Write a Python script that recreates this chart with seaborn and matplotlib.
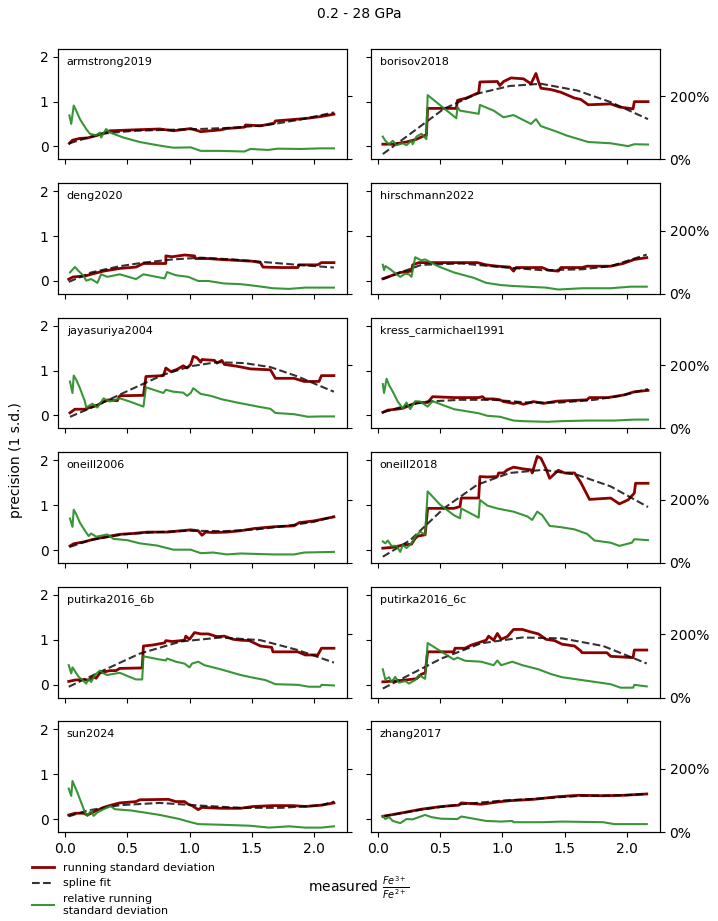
import matplotlib
matplotlib.use("Agg")
import matplotlib.pyplot as plt
from matplotlib.lines import Line2D
from matplotlib.ticker import PercentFormatter
import seaborn as sns

# === Data ===
STUDIES = ["armstrong2019", "borisov2018", "deng2020", "hirschmann2022",
           "jayasuriya2004", "kress_carmichael1991", "oneill2006", "oneill2018",
           "putirka2016_6b", "putirka2016_6c", "sun2024", "zhang2017"]

# running standard deviation (step-like)
SD_X = {
    "armstrong2019": [0.035, 0.06, 0.12, 0.18, 0.25, 0.33, 0.36, 0.55, 0.76, 0.87, 1.01, 1.09, 1.25, 1.30, 1.44, 1.45, 1.57, 1.68, 1.69, 1.87, 1.95, 2.06, 2.16],
    "borisov2018": [0.04, 0.12, 0.23, 0.31, 0.38, 0.39, 0.40, 0.63, 0.64, 0.71, 0.81, 0.82, 0.96, 0.98, 1.01, 1.07, 1.17, 1.23, 1.27, 1.29, 1.31, 1.39, 1.47, 1.58, 1.63, 1.69, 1.87, 1.94, 2.05, 2.06, 2.17],
    "deng2020": [0.03, 0.065, 0.16, 0.21, 0.31, 0.44, 0.57, 0.63, 0.81, 0.81, 0.86, 0.96, 1.04, 1.05, 1.15, 1.25, 1.38, 1.51, 1.57, 1.59, 1.74, 1.87, 1.88, 2.03, 2.06, 2.16],
    "hirschmann2022": [0.04, 0.12, 0.18, 0.27, 0.28, 0.33, 0.51, 0.80, 0.87, 0.96, 1.06, 1.09, 1.11, 1.32, 1.37, 1.45, 1.47, 1.64, 1.68, 1.87, 1.97, 2.06, 2.16],
    "jayasuriya2004": [0.04, 0.08, 0.16, 0.20, 0.26, 0.31, 0.35, 0.42, 0.44, 0.63, 0.65, 0.79, 0.81, 0.85, 0.90, 0.95, 0.98, 1.01, 1.03, 1.06, 1.09, 1.10, 1.20, 1.22, 1.26, 1.28, 1.38, 1.49, 1.65, 1.69, 1.84, 1.92, 2.04, 2.06, 2.16],
    "kress_carmichael1991": [0.04, 0.08, 0.15, 0.20, 0.26, 0.31, 0.40, 0.44, 0.61, 0.81, 0.84, 0.86, 0.93, 0.98, 1.01, 1.09, 1.12, 1.17, 1.25, 1.33, 1.44, 1.68, 1.70, 1.85, 1.98, 2.06, 2.17],
    "oneill2006": [0.04, 0.07, 0.15, 0.23, 0.34, 0.44, 0.55, 0.66, 0.82, 0.93, 1.01, 1.07, 1.10, 1.13, 1.19, 1.30, 1.41, 1.52, 1.68, 1.84, 1.88, 2.00, 2.16],
    "oneill2018": [0.04, 0.12, 0.20, 0.27, 0.30, 0.32, 0.38, 0.40, 0.61, 0.66, 0.67, 0.81, 0.82, 0.88, 0.96, 0.97, 1.01, 1.04, 1.09, 1.17, 1.23, 1.24, 1.28, 1.31, 1.35, 1.38, 1.45, 1.50, 1.58, 1.63, 1.70, 1.87, 1.94, 2.01, 2.06, 2.07, 2.17],
    "putirka2016_6b": [0.03, 0.08, 0.15, 0.19, 0.23, 0.25, 0.28, 0.36, 0.41, 0.44, 0.62, 0.63, 0.70, 0.80, 0.81, 0.86, 0.93, 0.96, 0.97, 1.00, 1.04, 1.09, 1.15, 1.22, 1.28, 1.35, 1.41, 1.48, 1.57, 1.66, 1.67, 1.87, 1.93, 2.03, 2.06, 2.16],
    "putirka2016_6c": [0.04, 0.15, 0.25, 0.31, 0.35, 0.38, 0.40, 0.61, 0.62, 0.70, 0.75, 0.87, 0.89, 0.93, 0.96, 0.99, 1.04, 1.09, 1.16, 1.22, 1.29, 1.35, 1.42, 1.48, 1.58, 1.63, 1.64, 1.84, 1.87, 2.05, 2.06, 2.16],
    "sun2024": [0.03, 0.08, 0.15, 0.18, 0.23, 0.31, 0.37, 0.44, 0.57, 0.60, 0.83, 0.89, 0.96, 0.99, 1.02, 1.07, 1.10, 1.25, 1.41, 1.51, 1.67, 1.83, 1.93, 2.06, 2.16],
    "zhang2017": [0.04, 0.18, 0.35, 0.51, 0.65, 0.67, 0.83, 0.99, 1.06, 1.25, 1.45, 1.61, 1.81, 1.97, 2.16],
}
SD_Y = {
    "armstrong2019": [0.07, 0.14, 0.18, 0.19, 0.24, 0.31, 0.35, 0.37, 0.39, 0.35, 0.40, 0.33, 0.37, 0.40, 0.43, 0.48, 0.46, 0.52, 0.57, 0.61, 0.63, 0.67, 0.72],
    "borisov2018": [0.05, 0.05, 0.10, 0.16, 0.25, 0.25, 0.85, 0.85, 1.03, 1.08, 1.20, 1.44, 1.45, 1.36, 1.45, 1.53, 1.51, 1.40, 1.63, 1.45, 1.30, 1.27, 1.21, 1.08, 1.05, 0.93, 0.95, 0.88, 0.84, 1.00, 1.00],
    "deng2020": [0.04, 0.09, 0.11, 0.15, 0.22, 0.28, 0.31, 0.39, 0.39, 0.56, 0.54, 0.58, 0.56, 0.50, 0.50, 0.48, 0.46, 0.44, 0.41, 0.31, 0.30, 0.30, 0.36, 0.36, 0.41, 0.41],
    "hirschmann2022": [0.05, 0.13, 0.19, 0.22, 0.36, 0.41, 0.41, 0.41, 0.36, 0.33, 0.31, 0.22, 0.30, 0.30, 0.24, 0.22, 0.30, 0.30, 0.33, 0.33, 0.39, 0.48, 0.52],
    "jayasuriya2004": [0.06, 0.14, 0.14, 0.18, 0.23, 0.31, 0.35, 0.33, 0.44, 0.45, 0.87, 0.89, 1.06, 0.98, 1.03, 1.11, 1.06, 1.14, 1.32, 1.29, 1.19, 1.25, 1.23, 1.17, 1.23, 1.14, 1.10, 1.04, 1.02, 0.83, 0.83, 0.76, 0.76, 0.89, 0.89],
    "kress_carmichael1991": [0.07, 0.12, 0.14, 0.16, 0.23, 0.29, 0.29, 0.42, 0.40, 0.40, 0.42, 0.37, 0.37, 0.35, 0.31, 0.27, 0.29, 0.25, 0.31, 0.27, 0.32, 0.35, 0.40, 0.40, 0.46, 0.53, 0.56],
    "oneill2006": [0.09, 0.14, 0.18, 0.24, 0.30, 0.35, 0.37, 0.40, 0.40, 0.43, 0.45, 0.43, 0.33, 0.40, 0.39, 0.40, 0.43, 0.48, 0.52, 0.54, 0.61, 0.65, 0.74],
    "oneill2018": [0.04, 0.06, 0.11, 0.13, 0.26, 0.31, 0.34, 0.93, 0.93, 0.97, 1.16, 1.16, 1.64, 1.63, 1.64, 1.72, 1.72, 1.79, 1.85, 1.81, 1.79, 1.72, 2.09, 2.05, 1.82, 1.60, 1.78, 1.72, 1.72, 1.51, 1.13, 1.16, 1.03, 1.12, 1.27, 1.49, 1.49],
    "putirka2016_6b": [0.07, 0.10, 0.11, 0.10, 0.17, 0.14, 0.26, 0.31, 0.31, 0.36, 0.37, 0.86, 0.88, 0.93, 0.98, 0.96, 0.98, 0.99, 1.08, 1.01, 1.16, 1.13, 1.13, 1.07, 1.08, 1.01, 0.99, 0.98, 0.86, 0.83, 0.73, 0.73, 0.66, 0.66, 0.81, 0.81],
    "putirka2016_6c": [0.06, 0.08, 0.11, 0.13, 0.23, 0.26, 0.73, 0.73, 0.81, 0.81, 0.88, 0.99, 1.08, 0.99, 1.14, 1.01, 1.07, 1.23, 1.23, 1.18, 1.13, 1.01, 0.98, 0.90, 0.86, 0.75, 0.71, 0.71, 0.63, 0.60, 0.77, 0.77],
    "sun2024": [0.09, 0.13, 0.13, 0.09, 0.16, 0.26, 0.31, 0.36, 0.39, 0.43, 0.44, 0.39, 0.39, 0.33, 0.30, 0.21, 0.26, 0.24, 0.24, 0.28, 0.30, 0.30, 0.28, 0.31, 0.36],
    "zhang2017": [0.06, 0.13, 0.22, 0.28, 0.31, 0.36, 0.33, 0.39, 0.41, 0.44, 0.50, 0.53, 0.52, 0.53, 0.56],
}

# spline fit through the running standard deviation
FIT_X = {
    "armstrong2019": [0.035, 0.28, 0.55, 0.82, 1.09, 1.36, 1.63, 1.89, 2.16],
    "borisov2018": [0.04, 0.26, 0.53, 0.80, 1.06, 1.31, 1.60, 1.87, 2.17],
    "deng2020": [0.03, 0.21, 0.44, 0.63, 0.86, 1.09, 1.35, 1.61, 1.87, 2.16],
    "hirschmann2022": [0.04, 0.18, 0.35, 0.67, 0.99, 1.32, 1.64, 1.87, 2.16],
    "jayasuriya2004": [0.04, 0.26, 0.52, 0.79, 1.01, 1.22, 1.44, 1.65, 1.87, 2.03, 2.16],
    "kress_carmichael1991": [0.04, 0.20, 0.39, 0.66, 0.93, 1.20, 1.47, 1.74, 1.95, 2.17],
    "oneill2006": [0.04, 0.20, 0.47, 0.74, 1.01, 1.28, 1.54, 1.81, 2.00, 2.16],
    "oneill2018": [0.04, 0.26, 0.53, 0.80, 1.06, 1.33, 1.60, 1.87, 2.17],
    "putirka2016_6b": [0.03, 0.28, 0.60, 0.93, 1.25, 1.57, 1.87, 2.16],
    "putirka2016_6c": [0.04, 0.25, 0.51, 0.83, 1.16, 1.48, 1.81, 2.16],
    "sun2024": [0.03, 0.18, 0.44, 0.76, 1.09, 1.41, 1.74, 2.06, 2.16],
    "zhang2017": [0.04, 0.35, 0.67, 0.99, 1.31, 1.64, 1.97, 2.16],
}
FIT_Y = {
    "armstrong2019": [0.07, 0.28, 0.35, 0.37, 0.39, 0.42, 0.48, 0.60, 0.76],
    "borisov2018": [-0.17, 0.28, 0.84, 1.18, 1.35, 1.40, 1.25, 0.99, 0.61],
    "deng2020": [-0.02, 0.19, 0.33, 0.41, 0.48, 0.52, 0.48, 0.42, 0.36, 0.30],
    "hirschmann2022": [0.04, 0.19, 0.36, 0.39, 0.31, 0.24, 0.26, 0.33, 0.59],
    "jayasuriya2004": [-0.03, 0.23, 0.57, 0.91, 1.10, 1.19, 1.17, 1.08, 0.87, 0.68, 0.53],
    "kress_carmichael1991": [0.07, 0.20, 0.31, 0.35, 0.35, 0.29, 0.29, 0.35, 0.44, 0.59],
    "oneill2006": [0.07, 0.22, 0.35, 0.40, 0.43, 0.42, 0.46, 0.55, 0.63, 0.75],
    "oneill2018": [-0.15, 0.22, 0.93, 1.46, 1.72, 1.79, 1.68, 1.42, 0.96],
    "putirka2016_6b": [-0.05, 0.28, 0.69, 0.96, 1.05, 0.99, 0.77, 0.49],
    "putirka2016_6c": [-0.09, 0.21, 0.58, 0.92, 1.05, 1.03, 0.86, 0.47],
    "sun2024": [0.06, 0.19, 0.31, 0.36, 0.30, 0.25, 0.25, 0.31, 0.39],
    "zhang2017": [0.06, 0.21, 0.33, 0.41, 0.46, 0.52, 0.53, 0.56],
}

# relative running standard deviation (fraction, right axis)
REL_X = {
    "armstrong2019": [0.035, 0.05, 0.07, 0.09, 0.12, 0.17, 0.20, 0.25, 0.28, 0.29, 0.33, 0.36, 0.47, 0.60, 0.74, 0.87, 1.01, 1.09, 1.25, 1.44, 1.49, 1.63, 1.71, 1.89, 2.06, 2.16],
    "borisov2018": [0.04, 0.06, 0.09, 0.12, 0.15, 0.20, 0.23, 0.27, 0.28, 0.31, 0.35, 0.39, 0.40, 0.63, 0.64, 0.66, 0.81, 0.82, 0.93, 1.01, 1.09, 1.23, 1.27, 1.31, 1.42, 1.52, 1.69, 1.87, 2.01, 2.06, 2.17],
    "deng2020": [0.04, 0.08, 0.11, 0.15, 0.17, 0.21, 0.26, 0.29, 0.34, 0.44, 0.57, 0.63, 0.80, 0.82, 0.89, 0.99, 1.07, 1.15, 1.28, 1.41, 1.54, 1.67, 1.80, 1.93, 2.06, 2.16],
    "hirschmann2022": [0.04, 0.05, 0.06, 0.10, 0.15, 0.18, 0.22, 0.25, 0.27, 0.30, 0.35, 0.38, 0.48, 0.61, 0.77, 0.87, 0.99, 1.09, 1.35, 1.45, 1.64, 1.87, 2.03, 2.16],
    "jayasuriya2004": [0.04, 0.06, 0.07, 0.09, 0.12, 0.16, 0.17, 0.22, 0.26, 0.31, 0.36, 0.44, 0.52, 0.63, 0.65, 0.79, 0.81, 0.87, 0.95, 0.98, 1.01, 1.03, 1.09, 1.17, 1.26, 1.38, 1.55, 1.65, 1.69, 1.84, 1.95, 2.06, 2.16],
    "kress_carmichael1991": [0.04, 0.05, 0.07, 0.09, 0.12, 0.16, 0.20, 0.23, 0.26, 0.30, 0.34, 0.40, 0.44, 0.61, 0.81, 0.88, 0.98, 1.09, 1.17, 1.36, 1.47, 1.68, 1.90, 2.06, 2.17],
    "oneill2006": [0.04, 0.06, 0.07, 0.09, 0.12, 0.16, 0.19, 0.21, 0.25, 0.34, 0.39, 0.50, 0.60, 0.74, 0.87, 1.01, 1.09, 1.19, 1.30, 1.41, 1.68, 1.84, 1.92, 2.16],
    "oneill2018": [0.04, 0.06, 0.08, 0.11, 0.15, 0.18, 0.20, 0.23, 0.27, 0.30, 0.34, 0.38, 0.40, 0.50, 0.61, 0.66, 0.67, 0.81, 0.82, 0.88, 0.96, 1.01, 1.09, 1.20, 1.24, 1.28, 1.32, 1.38, 1.47, 1.58, 1.68, 1.74, 1.87, 1.94, 2.04, 2.06, 2.17],
    "putirka2016_6b": [0.03, 0.05, 0.06, 0.11, 0.15, 0.17, 0.19, 0.21, 0.24, 0.28, 0.31, 0.34, 0.44, 0.50, 0.57, 0.62, 0.63, 0.76, 0.81, 0.82, 0.89, 0.96, 1.00, 1.02, 1.07, 1.12, 1.25, 1.41, 1.48, 1.61, 1.69, 1.87, 1.96, 2.05, 2.06, 2.16],
    "putirka2016_6c": [0.04, 0.06, 0.09, 0.11, 0.14, 0.17, 0.22, 0.25, 0.30, 0.33, 0.38, 0.40, 0.61, 0.64, 0.70, 0.83, 0.93, 0.96, 0.99, 1.08, 1.16, 1.29, 1.39, 1.48, 1.64, 1.87, 1.95, 2.05, 2.06, 2.16],
    "sun2024": [0.03, 0.05, 0.06, 0.10, 0.13, 0.16, 0.18, 0.21, 0.23, 0.26, 0.31, 0.34, 0.37, 0.40, 0.53, 0.63, 0.76, 0.92, 0.99, 1.07, 1.25, 1.48, 1.64, 1.80, 1.93, 2.06, 2.16],
    "zhang2017": [0.04, 0.06, 0.09, 0.12, 0.18, 0.23, 0.28, 0.33, 0.38, 0.43, 0.51, 0.64, 0.67, 0.77, 0.87, 0.99, 1.08, 1.09, 1.32, 1.48, 1.81, 1.90, 2.16],
}
REL_Y = {
    "armstrong2019": [1.39, 1.12, 1.70, 1.54, 1.27, 0.96, 0.81, 0.76, 0.85, 0.69, 0.96, 0.85, 0.69, 0.55, 0.45, 0.37, 0.38, 0.27, 0.27, 0.25, 0.33, 0.30, 0.34, 0.33, 0.35, 0.35],
    "borisov2018": [0.72, 0.59, 0.48, 0.59, 0.45, 0.51, 0.45, 0.59, 0.48, 0.72, 0.81, 0.64, 2.03, 1.30, 1.65, 1.54, 1.44, 1.72, 1.54, 1.33, 1.40, 1.12, 1.27, 1.05, 0.90, 0.75, 0.55, 0.51, 0.42, 0.48, 0.47],
    "deng2020": [0.68, 0.85, 0.72, 0.57, 0.42, 0.47, 0.35, 0.62, 0.54, 0.62, 0.47, 0.62, 0.49, 0.69, 0.59, 0.54, 0.41, 0.41, 0.33, 0.31, 0.25, 0.18, 0.16, 0.20, 0.20, 0.20],
    "hirschmann2022": [0.92, 0.75, 0.88, 0.78, 0.62, 0.54, 0.64, 0.62, 0.54, 1.16, 1.06, 1.09, 0.88, 0.68, 0.51, 0.35, 0.28, 0.25, 0.20, 0.14, 0.18, 0.18, 0.23, 0.23],
    "jayasuriya2004": [1.48, 1.12, 1.67, 1.54, 1.27, 0.85, 0.66, 0.78, 0.66, 0.95, 0.85, 0.95, 0.85, 0.69, 1.30, 1.12, 1.22, 1.16, 1.13, 1.03, 1.12, 1.27, 1.09, 1.03, 0.92, 0.82, 0.69, 0.62, 0.49, 0.45, 0.37, 0.38, 0.38],
    "kress_carmichael1991": [1.40, 1.12, 1.57, 1.37, 1.16, 0.85, 0.64, 0.82, 0.61, 0.86, 0.85, 0.69, 0.86, 0.61, 0.48, 0.40, 0.37, 0.25, 0.23, 0.21, 0.23, 0.25, 0.25, 0.28, 0.28],
    "oneill2006": [1.40, 1.14, 1.68, 1.54, 1.27, 1.02, 0.85, 0.93, 0.83, 0.90, 0.76, 0.72, 0.62, 0.55, 0.42, 0.42, 0.31, 0.33, 0.27, 0.30, 0.27, 0.27, 0.33, 0.35],
    "oneill2018": [0.68, 0.62, 0.71, 0.54, 0.54, 0.35, 0.57, 0.47, 0.62, 0.83, 0.99, 0.89, 2.26, 1.84, 1.51, 1.41, 1.72, 1.43, 1.99, 1.81, 1.72, 1.68, 1.62, 1.47, 1.36, 1.62, 1.51, 1.17, 1.13, 1.06, 0.92, 0.71, 0.64, 0.54, 0.64, 0.75, 0.72],
    "putirka2016_6b": [1.02, 0.76, 0.95, 0.65, 0.52, 0.44, 0.59, 0.49, 0.71, 0.85, 0.76, 0.71, 0.78, 0.68, 0.57, 0.57, 1.30, 1.20, 1.17, 1.23, 1.13, 1.07, 0.95, 1.07, 1.13, 1.02, 0.89, 0.71, 0.65, 0.55, 0.42, 0.40, 0.34, 0.34, 0.40, 0.38],
    "putirka2016_6c": [0.89, 0.57, 0.64, 0.49, 0.65, 0.47, 0.52, 0.44, 0.55, 0.71, 0.59, 1.72, 1.20, 1.26, 1.16, 1.13, 1.02, 1.17, 1.02, 1.13, 1.02, 0.89, 0.74, 0.64, 0.55, 0.42, 0.31, 0.31, 0.40, 0.35],
    "sun2024": [1.37, 1.14, 1.61, 1.24, 0.93, 0.62, 0.51, 0.68, 0.51, 0.62, 0.72, 0.78, 0.81, 0.72, 0.68, 0.62, 0.54, 0.41, 0.33, 0.25, 0.23, 0.20, 0.14, 0.18, 0.14, 0.14, 0.18],
    "zhang2017": [0.51, 0.41, 0.47, 0.35, 0.28, 0.41, 0.40, 0.47, 0.54, 0.47, 0.42, 0.41, 0.49, 0.42, 0.35, 0.33, 0.35, 0.31, 0.31, 0.33, 0.31, 0.25, 0.25],
}

RED = "darkred"
GREEN = "forestgreen"

fig, axes = plt.subplots(6, 2, figsize=(7.18, 9.21), dpi=100, sharex=True, sharey=True)
fig.subplots_adjust(left=0.081, right=0.919, top=0.947, bottom=0.0966, wspace=0.083, hspace=0.216)

twins = []
for ax, name in zip(axes.flat, STUDIES):
    sns.lineplot(x=SD_X[name], y=SD_Y[name], ax=ax, estimator=None, sort=False,
                 color=RED, lw=2)
    sns.lineplot(x=FIT_X[name], y=FIT_Y[name], ax=ax, estimator=None, sort=False,
                 color="black", alpha=0.8, lw=1.5, linestyle="--")
    ax2 = ax.twinx()
    sns.lineplot(x=REL_X[name], y=REL_Y[name], ax=ax2, estimator=None, sort=False,
                 color=GREEN, alpha=0.9, lw=1.5)
    twins.append(ax2)
    ax.text(0.03, 0.885, name, transform=ax.transAxes, fontsize=8, va="center")
    ax.set_xlabel("")
    ax.set_ylabel("")

for i, ax2 in enumerate(twins):
    ax2.set_ylim(0, 3.49)
    ax2.set_yticks([0, 2])
    ax2.yaxis.set_major_formatter(PercentFormatter(1.0, decimals=0))
    ax2.set_ylabel("")
    if i % 2 == 0:
        ax2.tick_params(labelright=False)

axes[0, 0].set_ylim(-0.29, 2.18)
axes[0, 0].set_yticks([0, 1, 2])
axes[0, 0].set_xlim(-0.055, 2.265)
axes[0, 0].set_xticks([0.0, 0.5, 1.0, 1.5, 2.0])

fig.suptitle("0.2 - 28 GPa", fontsize=10, y=0.992)
fig.supxlabel(r"measured $\frac{Fe^{3+}}{Fe^{2+}}$", fontsize=10, x=0.5, y=0.022)
fig.supylabel("precision (1 s.d.)", fontsize=10, x=0.012)

handles = [
    Line2D([], [], color=RED, lw=2),
    Line2D([], [], color="black", alpha=0.8, lw=1.5, linestyle="--"),
    Line2D([], [], color=GREEN, alpha=0.9, lw=1.5),
]
labels = ["running standard deviation", "spline fit", "relative running\nstandard deviation"]
fig.legend(handles, labels, loc="lower left", bbox_to_anchor=(0.03, -0.005),
           fontsize=8, frameon=False, handlelength=2, labelspacing=0.5)

fig.savefig("out.png", dpi=100)
